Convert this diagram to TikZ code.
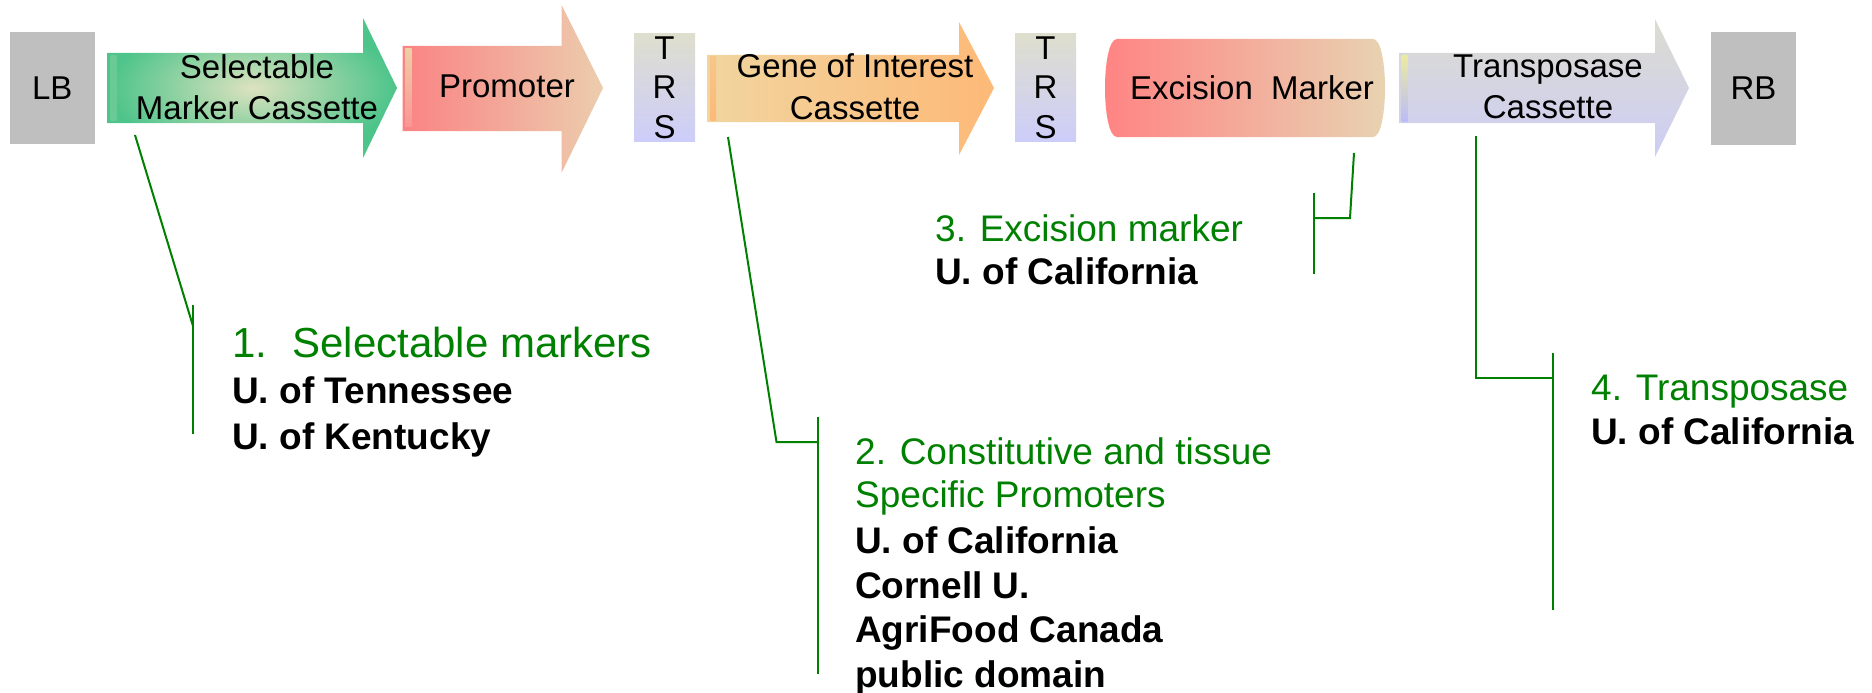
\documentclass[tikz,border=0pt]{standalone}
\usepackage{fontspec}
\setmainfont{Liberation Sans}
\definecolor{lbgray}{HTML}{BFBFBF}
\definecolor{tgreen}{HTML}{008000}
\definecolor{selout}{HTML}{4CC48A}
\definecolor{selin}{HTML}{DDE2BF}
\definecolor{proL}{HTML}{FA8383}
\definecolor{proR}{HTML}{ECCDAE}
\definecolor{geneL}{HTML}{F1D59F}
\definecolor{geneR}{HTML}{FDB977}
\definecolor{trsT}{HTML}{DEDECE}
\definecolor{trsB}{HTML}{CDCDFA}
\definecolor{excL}{HTML}{FF8383}
\definecolor{excR}{HTML}{E8D4B2}
\definecolor{traT}{HTML}{DCDCD0}
\definecolor{traB}{HTML}{CDCDF6}
\begin{document}
\begin{tikzpicture}[x=1pt,y=-1pt,
  lbl/.style={font=\fontsize{33}{38.5}\selectfont, inner sep=0pt, align=center},
  graybox/.style={fill=lbgray, inner sep=0pt, font=\fontsize{33}{38.5}\selectfont},
  trsbox/.style={top color=trsT, bottom color=trsB, inner sep=0pt, align=center,
     minimum width=61pt, minimum height=107pt, font=\fontsize{33}{38.5}\selectfont},
  head/.style={font=\fontsize{37}{44}\selectfont, text=tgreen, inner sep=0pt, anchor=base west},
  inst/.style={font=\fontsize{37}{44}\selectfont\bfseries, inner sep=0pt, anchor=base west},
  lead/.style={draw=tgreen, line width=2pt}]
\useasboundingbox (0,0) rectangle (1872,693);

% border boxes
\node[graybox, minimum width=85.5pt, minimum height=112pt] (LB) at (52.25,88) {LB};
\node[graybox, minimum width=85pt, minimum height=113pt] (RB) at (1753.5,88.5) {RB};

% arrows
\path[inner color=selin, outer color=selout]
  (107.5,53) -- (363,53) -- (363,18) -- (397,88) -- (363,158) -- (363,123) -- (107.5,123) -- cycle;
\path[top color=selout!80!selin, middle color=selin!80!yellow!60!white, bottom color=selout!80!selin]
  (110.5,56) rectangle (116.5,120);
\node[lbl] (sel) at (257,87) {Selectable\\[3pt]Marker Cassette};

\path[left color=proL, right color=proR]
  (402.5,46) -- (561.5,46) -- (561.5,5) -- (603,88) -- (561.5,173) -- (561.5,131) -- (402.5,131) -- cycle;
\path[top color=proR!95!yellow, bottom color=proL!85!white] (405,49) rectangle (411.5,126);
\node[lbl] (pro) at (507,86.5) {Promoter};

\node[trsbox] (trs1) at (664.5,87.5) {T\\[1pt]R\\[1pt]S};

\path[left color=geneL, right color=geneR]
  (707,55) -- (959,55) -- (959,22) -- (994,88) -- (959,155) -- (959,122) -- (707,122) -- cycle;
\path[top color=geneR!55!geneL, bottom color=geneR] (710,57) rectangle (716,120);
\node[lbl] (gene) at (855,86.5) {Gene of Interest\\[3pt]Cassette};

\node[trsbox] (trs2) at (1045.5,87.5) {T\\[1pt]R\\[1pt]S};

\path[left color=excL, right color=excR]
  (1117,39) -- (1373,39) .. controls (1389,39) and (1389,137) .. (1373,137)
  -- (1117,137) .. controls (1101,137) and (1101,39) .. (1117,39) -- cycle;
\node[lbl] (exc) at (1252,88) {Excision\ \ Marker};

\path[top color=traT, bottom color=traB]
  (1399,53) -- (1655,53) -- (1655,19) -- (1689,88) -- (1655,157) -- (1655,123) -- (1399,123) -- cycle;
\path[top color=traT!70!yellow!85!white, bottom color=traB!90!blue!95!white] (1401.5,56) rectangle (1407.5,121);
\node[lbl] (tra) at (1548,87) {Transposase\\[3pt]Cassette};

% leader lines
\coordinate (s1) at (135,135);  \coordinate (j1) at (193,326);
\coordinate (b1t) at (193,305); \coordinate (b1b) at (193,434);
\draw[lead] (s1) -- (j1);
\draw[lead] (b1t) -- (b1b);

\coordinate (s2) at (728,137);  \coordinate (k2) at (776.5,442); \coordinate (j2) at (817.5,442);
\coordinate (b2t) at (817.5,417); \coordinate (b2b) at (817.5,674);
\draw[lead] (s2) -- (k2) -- (j2);
\draw[lead] (b2t) -- (b2b);

\coordinate (s3) at (1354,153); \coordinate (k3) at (1350,218); \coordinate (j3) at (1314,218);
\coordinate (b3t) at (1314,193); \coordinate (b3b) at (1314,274);
\draw[lead] (s3) -- (k3) -- (j3);
\draw[lead] (b3t) -- (b3b);

\coordinate (s4) at (1476,136); \coordinate (k4) at (1476,378); \coordinate (j4) at (1553,378);
\coordinate (b4t) at (1553,353); \coordinate (b4b) at (1553,610);
\draw[lead] (s4) -- (k4) -- (j4);
\draw[lead] (b4t) -- (b4b);

% texts
\node[head, font=\fontsize{42}{46}\selectfont] (h1) at (232,357) {1.\hspace{0.6em}Selectable markers};
\node[inst] (i1a) at (232,403) {U. of Tennessee};
\node[inst] (i1b) at (232,449) {U. of Kentucky};

\node[head] (h2a) at (855,464) {2. Constitutive and tissue};
\node[head] (h2b) at (855,507) {Specific Promoters};
\node[inst] (i2a) at (855,553) {U. of California};
\node[inst] (i2b) at (855,598) {Cornell U.};
\node[inst] (i2c) at (855,642) {AgriFood Canada};
\node[inst] (i2d) at (855,687) {public domain};

\node[head] (h3) at (935,241) {3. Excision marker};
\node[inst] (i3) at (935,284) {U. of California};

\node[head] (h4) at (1591,400) {4. Transposase};
\node[inst] (i4) at (1591,444) {U. of California};
\end{tikzpicture}
\end{document}
